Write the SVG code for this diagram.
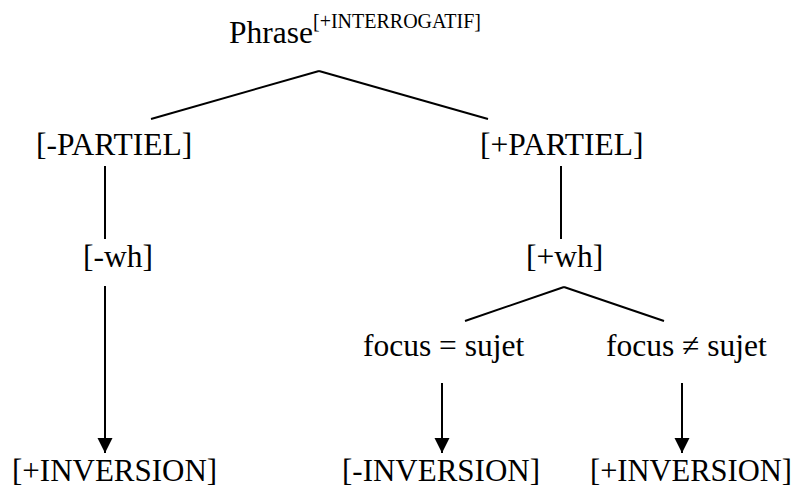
<svg xmlns="http://www.w3.org/2000/svg" width="794" height="488" viewBox="0 0 794 488">
<style>
text{font-family:"Liberation Serif","Times New Roman",Times,serif;font-size:31.5px;fill:#000}
.sup{font-size:20px}
.b{font-size:31px}
.c line{stroke:#000;stroke-width:2;fill:none}
</style>
<defs>
<marker id="ah" markerUnits="userSpaceOnUse" markerWidth="16" markerHeight="16" viewBox="0 0 16 16" refX="15" refY="8" orient="auto">
<path d="M0,0.5 L15,8 L0,15.5 Z" fill="#000"/>
</marker>
</defs>
<rect width="794" height="488" fill="#fff"/>
<g class="c" id="connectors">
<line x1="319" y1="71" x2="151" y2="119"/>
<line x1="319" y1="71" x2="488" y2="119"/>
<line x1="105" y1="166" x2="105" y2="239"/>
<line x1="561" y1="166" x2="561" y2="239"/>
<line x1="564" y1="287" x2="465" y2="321"/>
<line x1="564" y1="287" x2="664" y2="321"/>
<line x1="105" y1="286" x2="105" y2="453" marker-end="url(#ah)"/>
<line x1="442" y1="383" x2="442" y2="453" marker-end="url(#ah)"/>
<line x1="682" y1="383" x2="682" y2="453" marker-end="url(#ah)"/>
</g>
<g id="root"><text x="229" y="43">Phrase<tspan class="sup" y="28">[+INTERROGATIF]</tspan></text></g>
<g id="moins-partiel"><text x="36" y="155">[-PARTIEL]</text></g>
<g id="plus-partiel"><text x="480" y="155">[+PARTIEL]</text></g>
<g id="moins-wh"><text x="83" y="267">[-wh]</text></g>
<g id="plus-wh"><text x="526" y="267">[+wh]</text></g>
<g id="focus-egal"><text x="363" y="356">focus = sujet</text></g>
<g id="focus-diff"><text x="606" y="356">focus ≠ sujet</text></g>
<g id="inv1"><text class="b" x="12" y="481">[+INVERSION]</text></g>
<g id="inv2"><text class="b" x="342" y="481">[-INVERSION]</text></g>
<g id="inv3"><text class="b" x="590" y="481" style="font-size:30.5px">[+INVERSION]</text></g>
</svg>
